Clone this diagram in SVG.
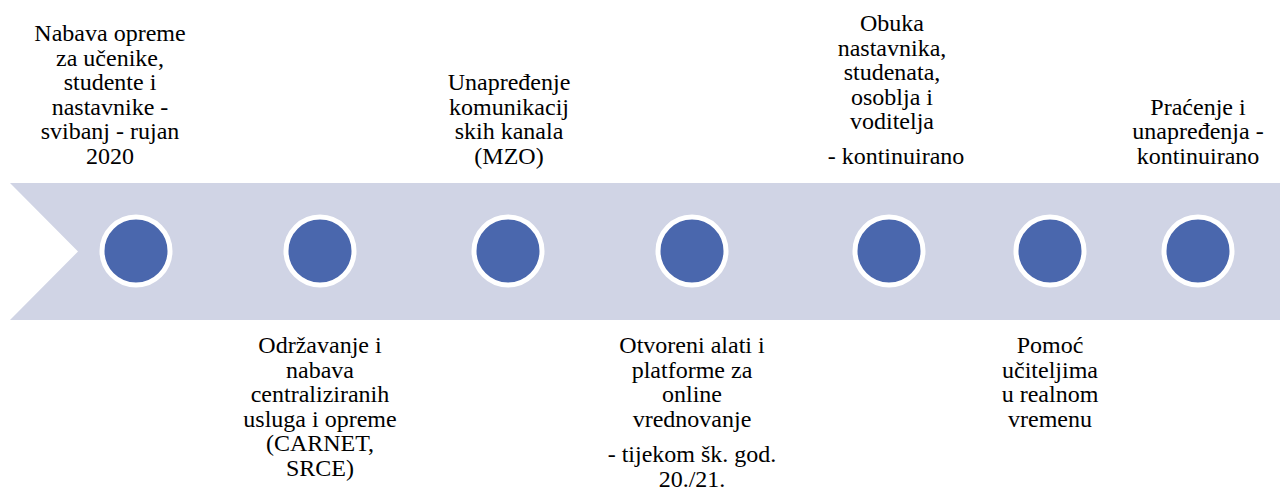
<svg xmlns="http://www.w3.org/2000/svg" width="1280" height="491" viewBox="0 0 1280 491">
<style>
.band{fill:#D0D4E5}
.dot{fill:#4A67AD;stroke:#FFFFFF;stroke-width:5}
</style>
<rect width="1280" height="491" fill="#FFFFFF"/>
<g id="timeline">
<polygon class="band" points="10,183 1280,183 1280,320 10,320 78,251.5"/>
</g>
<g id="connectors"></g>
<g id="node1">
<circle class="dot" cx="136" cy="251" r="34"/>
<text x="110" y="41" font-family="Liberation Serif" font-size="24" text-anchor="middle">Nabava opreme</text>
<text x="110" y="65.6" font-family="Liberation Serif" font-size="24" text-anchor="middle">za učenike,</text>
<text x="110" y="90.2" font-family="Liberation Serif" font-size="24" text-anchor="middle">studente i</text>
<text x="110" y="114.8" font-family="Liberation Serif" font-size="24" text-anchor="middle">nastavnike -</text>
<text x="110" y="139.4" font-family="Liberation Serif" font-size="24" text-anchor="middle">svibanj - rujan</text>
<text x="110" y="164" font-family="Liberation Serif" font-size="24" text-anchor="middle">2020</text>
</g>
<g id="node2">
<circle class="dot" cx="320" cy="251" r="34"/>
<text x="320" y="353" font-family="Liberation Serif" font-size="24" text-anchor="middle">Održavanje i</text>
<text x="320" y="377.6" font-family="Liberation Serif" font-size="24" text-anchor="middle">nabava</text>
<text x="320" y="402.2" font-family="Liberation Serif" font-size="24" text-anchor="middle">centraliziranih</text>
<text x="320" y="426.8" font-family="Liberation Serif" font-size="24" text-anchor="middle">usluga i opreme</text>
<text x="320" y="451.4" font-family="Liberation Serif" font-size="24" text-anchor="middle">(CARNET,</text>
<text x="320" y="476" font-family="Liberation Serif" font-size="24" text-anchor="middle">SRCE)</text>
</g>
<g id="node3">
<circle class="dot" cx="508" cy="251" r="34"/>
<text x="509" y="90.2" font-family="Liberation Serif" font-size="24" text-anchor="middle">Unapređenje</text>
<text x="509" y="114.8" font-family="Liberation Serif" font-size="24" text-anchor="middle">komunikacij</text>
<text x="509" y="139.4" font-family="Liberation Serif" font-size="24" text-anchor="middle">skih kanala</text>
<text x="509" y="164" font-family="Liberation Serif" font-size="24" text-anchor="middle">(MZO)</text>
</g>
<g id="node4">
<circle class="dot" cx="692" cy="251" r="34"/>
<text x="692" y="353" font-family="Liberation Serif" font-size="24" text-anchor="middle">Otvoreni alati i</text>
<text x="692" y="377.6" font-family="Liberation Serif" font-size="24" text-anchor="middle">platforme za</text>
<text x="692" y="402.2" font-family="Liberation Serif" font-size="24" text-anchor="middle">online</text>
<text x="692" y="426.8" font-family="Liberation Serif" font-size="24" text-anchor="middle">vrednovanje</text>
<text x="692" y="462" font-family="Liberation Serif" font-size="24" text-anchor="middle">- tijekom šk. god.</text>
<text x="692" y="486.5" font-family="Liberation Serif" font-size="24" text-anchor="middle">20./21.</text>
</g>
<g id="node5">
<circle class="dot" cx="889" cy="251" r="34"/>
<text x="892" y="31" font-family="Liberation Serif" font-size="24" text-anchor="middle">Obuka</text>
<text x="892" y="55.6" font-family="Liberation Serif" font-size="24" text-anchor="middle">nastavnika,</text>
<text x="892" y="80.2" font-family="Liberation Serif" font-size="24" text-anchor="middle">studenata,</text>
<text x="892" y="104.8" font-family="Liberation Serif" font-size="24" text-anchor="middle">osoblja i</text>
<text x="892" y="129.4" font-family="Liberation Serif" font-size="24" text-anchor="middle">voditelja</text>
<text x="896" y="164" font-family="Liberation Serif" font-size="24" text-anchor="middle">- kontinuirano</text>
</g>
<g id="node6">
<circle class="dot" cx="1050" cy="251" r="34"/>
<text x="1050" y="353" font-family="Liberation Serif" font-size="24" text-anchor="middle">Pomoć</text>
<text x="1050" y="377.6" font-family="Liberation Serif" font-size="24" text-anchor="middle">učiteljima</text>
<text x="1050" y="402.2" font-family="Liberation Serif" font-size="24" text-anchor="middle">u realnom</text>
<text x="1050" y="426.8" font-family="Liberation Serif" font-size="24" text-anchor="middle">vremenu</text>
</g>
<g id="node7">
<circle class="dot" cx="1198" cy="251" r="34"/>
<text x="1198" y="114.8" font-family="Liberation Serif" font-size="24" text-anchor="middle">Praćenje i</text>
<text x="1198" y="139.4" font-family="Liberation Serif" font-size="24" text-anchor="middle">unapređenja -</text>
<text x="1198" y="164" font-family="Liberation Serif" font-size="24" text-anchor="middle">kontinuirano</text>
</g>
</svg>
